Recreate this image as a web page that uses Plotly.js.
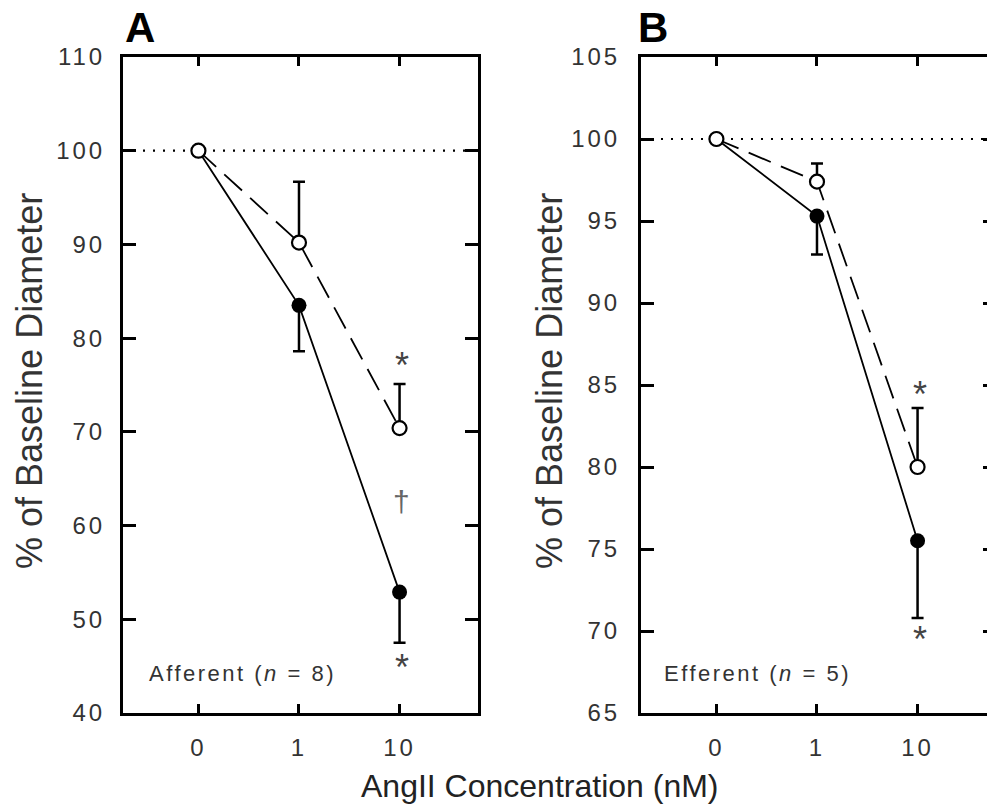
<!DOCTYPE html>
<html>
<head>
<meta charset="utf-8">
<script src="https://cdn.plot.ly/plotly-3.0.1.min.js"></script>
<style>
  html, body { margin: 0; padding: 0; overflow: hidden; background: #fff; }
  #chart { width: 1000px; height: 812px; }
  .xtick text, .x2tick text, .ytick text, .y2tick text { letter-spacing: 3px; }
</style>
</head>
<body>
<div id="chart"></div>
<script>
// ---------- data ----------
const conc = ['0', '1', '10'];               // AngII concentration (nM)
const baseline = 100;

// Panel A – Afferent (n = 8)
const afferentFilled = [100, 83.5, 52.9];
const afferentFilledSem = [0, 4.9, 5.4];
const afferentOpen = [100, 90.2, 70.4];
const afferentOpenSem = [0, 6.5, 4.7];
const afferentMarkX = ['10', '10', '10'];
const afferentMarkY = [77.6, 62.6, 45.4];
const afferentMarkText = ['*', '†', '*'];

// Panel B – Efferent (n = 5)
const efferentFilled = [100, 95.3, 75.5];
const efferentFilledSem = [0, 2.35, 4.7];
const efferentOpen = [100, 97.4, 80.0];
const efferentOpenSem = [0, 1.1, 3.6];
const efferentMarkX = ['10', '10'];
const efferentMarkY = [84.7, 69.8];
const efferentMarkText = ['*', '*'];

// ---------- layout helpers ----------
const W = 1000, H = 812;
const px = v => v / W;
const py = v => 1 - v / H;
const FONT = 'Liberation Sans, Arial, Helvetica, sans-serif';
const none = conc.map(() => 0);

function filledTrace(y, sem, xa, ya) {
  return {
    x: conc, y: y, xaxis: xa, yaxis: ya, type: 'scatter', mode: 'lines+markers',
    line: { color: '#000', width: 1.8 },
    marker: { symbol: 'circle', size: 15, color: '#000' },
    error_y: { type: 'data', symmetric: false, array: none, arrayminus: sem,
               color: '#000', thickness: 2.5, width: 6 },
    hoverinfo: 'skip', showlegend: false
  };
}
function openTrace(y, sem, xa, ya) {
  return {
    x: conc, y: y, xaxis: xa, yaxis: ya, type: 'scatter', mode: 'lines+markers',
    line: { color: '#000', width: 1.8, dash: '24px,11px' },
    marker: { symbol: 'circle', size: 14, color: '#fff', line: { color: '#000', width: 2.2 } },
    error_y: { type: 'data', symmetric: false, array: sem, arrayminus: none,
               color: '#000', thickness: 2.5, width: 6 },
    hoverinfo: 'skip', showlegend: false
  };
}

function xAxis(domain, anchor) {
  return {
    domain: domain, anchor: anchor, type: 'category', range: [-0.75, 2.78],
    showgrid: false, zeroline: false, showline: true, linecolor: '#000', linewidth: 3,
    mirror: 'ticks', ticks: 'inside', ticklen: 9, tickwidth: 3, tickcolor: '#000',
    ticklabelstandoff: 11,
    tickfont: { family: FONT, size: 24, color: '#333' }
  };
}
function yAxis(domain, anchor, range, dtick, standoff) {
  return {
    domain: domain, anchor: anchor, range: range, dtick: dtick, tick0: range[0],
    showgrid: false, zeroline: false, showline: true, linecolor: '#000', linewidth: 3,
    mirror: 'ticks', ticks: 'inside', ticklen: 13, tickwidth: 3, tickcolor: '#000',
    ticklabelstandoff: standoff,
    tickfont: { family: FONT, size: 24, color: '#333' }
  };
}

const yDom = [py(713), py(57)];

const traces = [
  filledTrace(afferentFilled, afferentFilledSem, 'x', 'y'),
  openTrace(afferentOpen, afferentOpenSem, 'x', 'y'),
  filledTrace(efferentFilled, efferentFilledSem, 'x2', 'y2'),
  openTrace(efferentOpen, efferentOpenSem, 'x2', 'y2')
];

function markAnns(xs, ys, ts, xref, yref) {
  return xs.map((x, i) => ({
    x: conc.indexOf(x), y: ys[i], xref: xref, yref: yref, text: ts[i],
    showarrow: false, xanchor: 'center', yanchor: 'middle', xshift: 2,
    yshift: ts[i] === '*' ? -5 : 0,
    font: { family: FONT, size: ts[i] === '*' ? 36 : 30, color: ts[i] === '*' ? '#444' : '#666' }
  }));
}

const annotations = [
  { text: '<b>A</b>', x: px(140), y: py(27), xref: 'paper', yref: 'paper', showarrow: false,
    xanchor: 'center', yanchor: 'middle', font: { family: FONT, size: 42, color: '#000' } },
  { text: '<b>B</b>', x: px(653), y: py(27), xref: 'paper', yref: 'paper', showarrow: false,
    xanchor: 'center', yanchor: 'middle', font: { family: FONT, size: 42, color: '#000' } },
  { text: '% of Baseline Diameter', x: px(29), y: py(381), xref: 'paper', yref: 'paper',
    textangle: -90, showarrow: false, xanchor: 'center', yanchor: 'middle',
    font: { family: FONT, size: 36, color: '#333' } },
  { text: '% of Baseline Diameter', x: px(549), y: py(381), xref: 'paper', yref: 'paper',
    textangle: -90, showarrow: false, xanchor: 'center', yanchor: 'middle',
    font: { family: FONT, size: 36, color: '#333' } },
  { text: 'AngII Concentration (nM)', x: px(540), y: py(786), xref: 'paper', yref: 'paper',
    showarrow: false, xanchor: 'center', yanchor: 'middle',
    font: { family: FONT, size: 32, color: '#222' } },
  { text: '<span style="letter-spacing:2.5px">Afferent (<i>n</i> = 8)</span>', x: px(147), y: py(673),
    xref: 'paper', yref: 'paper', showarrow: false, xanchor: 'left', yanchor: 'middle',
    font: { family: FONT, size: 22, color: '#333' } },
  { text: '<span style="letter-spacing:2.5px">Efferent (<i>n</i> = 5)</span>', x: px(662), y: py(673),
    xref: 'paper', yref: 'paper', showarrow: false, xanchor: 'left', yanchor: 'middle',
    font: { family: FONT, size: 22, color: '#333' } }
].concat(markAnns(afferentMarkX, afferentMarkY, afferentMarkText, 'x', 'y'))
 .concat(markAnns(efferentMarkX, efferentMarkY, efferentMarkText, 'x2', 'y2'));

const shapes = [
  { type: 'line', xref: 'x domain', yref: 'y', x0: 0, x1: 1, y0: baseline, y1: baseline,
    line: { color: '#000', width: 2.2, dash: '2px,8px' }, layer: 'below' },
  { type: 'line', xref: 'x2 domain', yref: 'y2', x0: 0, x1: 1, y0: baseline, y1: baseline,
    line: { color: '#000', width: 2.2, dash: '2px,8px' }, layer: 'below' }
];

const layout = {
  width: W, height: H,
  margin: { l: 0, r: 0, t: 0, b: 0, pad: 0 },
  paper_bgcolor: '#fff', plot_bgcolor: '#fff',
  showlegend: false,
  xaxis: xAxis([px(123), px(478)], 'y'),
  yaxis: yAxis(yDom, 'x', [40, 110], 10, 10),
  xaxis2: xAxis([px(641), px(996)], 'y2'),
  yaxis2: yAxis(yDom, 'x2', [65, 105], 5, 13),
  annotations: annotations,
  shapes: shapes
};

Plotly.newPlot('chart', traces, layout, { staticPlot: true, displayModeBar: false });
</script>
</body>
</html>
